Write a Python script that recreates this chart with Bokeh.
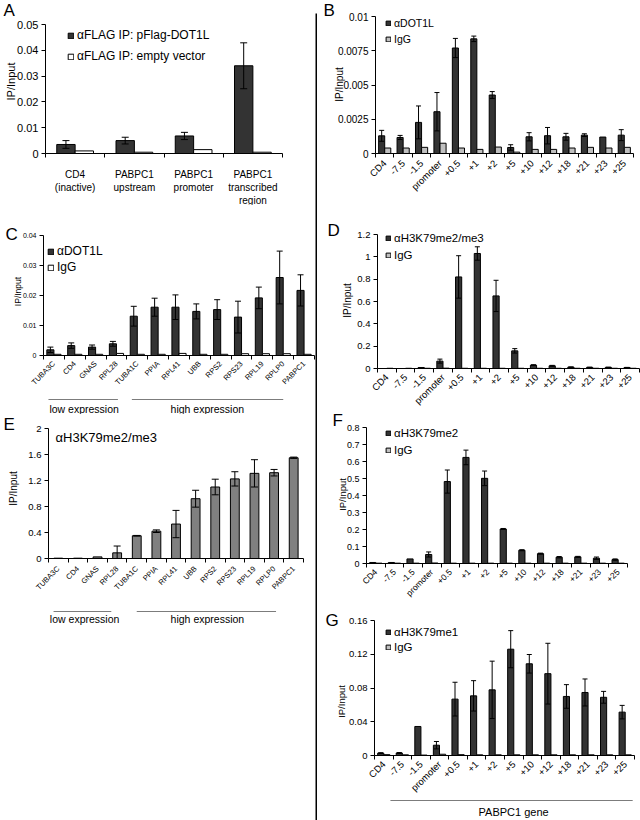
import math
from bokeh.plotting import figure
from bokeh.models import (ColumnDataSource, Whisker, TeeHead, FixedTicker, Range1d, Label,
                          Legend, LegendItem, PolyAnnotation, CustomJSTickFormatter)
from bokeh.core.properties import value
from bokeh.layouts import row, column
from bokeh.embed import file_html
from bokeh.resources import INLINE
from bokeh.transform import dodge

FONT = "Liberation Sans"
DARK = "#333333"
LIGHT = "#c0c0c0"
MID = "#808080"

# ---------------- data ----------------
# Panel A
a_cats = ["CD4\n(inactive)", "PABPC1\nupstream", "PABPC1\npromoter", "PABPC1\ntranscribed\nregion"]
a_flag = [0.0035, 0.0050, 0.0068, 0.0340]
a_flag_err = [0.0015, 0.0013, 0.0014, 0.0089]
a_empty = [0.0010, 0.0005, 0.0015, 0.0005]
a_yticks = [0, 0.01, 0.02, 0.03, 0.04, 0.05]

# PABPC1 gene positions (panels B, D, F, G)
gene_cats = ["CD4", "-7.5", "-1.5", "promoter", "+0.5", "+1", "+2", "+5",
             "+10", "+12", "+18", "+21", "+23", "+25"]

# Panel B
b_dot1l = [0.00129, 0.00117, 0.00227, 0.00305, 0.00770, 0.00837, 0.00427, 0.00044,
           0.00122, 0.00130, 0.00122, 0.00134, 0.00120, 0.00134]
b_dot1l_err = [0.0004, 0.00015, 0.0012, 0.0014, 0.0007, 0.0002, 0.00025, 0.0002,
               0.0003, 0.0006, 0.00025, 0.0001, 0.0, 0.0004]
b_igg = [0.0004, 0.0004, 0.00045, 0.00075, 0.0004, 0.0003, 0.00047, 0.0001,
         0.0003, 0.0003, 0.0004, 0.00045, 0.0004, 0.00045]
b_yticks = [0, 0.0025, 0.005, 0.0075, 0.01]

# Expression panels (C, E)
expr_cats = ["TUBA3C", "CD4", "GNAS", "RPL28", "TUBA1C", "PPIA", "RPL41", "UBB",
             "RPS2", "RPS23", "RPL19", "RPLP0", "PABPC1"]

# Panel C
c_dot1l = [0.0019, 0.0033, 0.0028, 0.0039, 0.0131, 0.0161, 0.0161, 0.0147,
           0.0153, 0.0128, 0.0192, 0.0260, 0.0217]
c_dot1l_err = [0.0009, 0.0009, 0.0007, 0.0008, 0.0033, 0.0030, 0.0041, 0.0025,
               0.0033, 0.0053, 0.0036, 0.0088, 0.0052]
c_igg = [0.0004, 0.0004, 0.0004, 0.0007, 0.0004, 0.0004, 0.0007, 0.0004,
         0.0004, 0.0006, 0.0006, 0.0006, 0.0004]
c_yticks = [0, 0.01, 0.02, 0.03, 0.04]

# Panel D
d_me23 = [0.0, 0.0, 0.009, 0.066, 0.82, 1.03, 0.65, 0.158, 0.030, 0.024, 0.012, 0.010, 0.010, 0.008]
d_me23_err = [0, 0, 0, 0.018, 0.19, 0.06, 0.14, 0.02, 0.004, 0.004, 0.002, 0.002, 0.002, 0.002]
d_igg = [0.002, 0.002, 0.002, 0.003, 0.002, 0.002, 0.002, 0.002, 0.002, 0.002, 0.002, 0.002, 0.002, 0.002]
d_yticks = [0, 0.2, 0.4, 0.6, 0.8, 1.0, 1.2]

# Panel E
e_me23 = [0.005, 0.005, 0.025, 0.087, 0.35, 0.42, 0.53, 0.92, 1.10, 1.225, 1.31, 1.32, 1.55]
e_me23_err = [0, 0, 0, 0.105, 0.005, 0.02, 0.21, 0.13, 0.12, 0.11, 0.21, 0.05, 0.01]
e_yticks = [0, 0.4, 0.8, 1.2, 1.6, 2.0]

# Panel F
f_me2 = [0.006, 0.006, 0.027, 0.053, 0.482, 0.624, 0.501, 0.203, 0.078, 0.058, 0.037, 0.039, 0.031, 0.023]
f_me2_err = [0, 0, 0, 0.015, 0.068, 0.043, 0.043, 0.003, 0.003, 0.003, 0.004, 0.003, 0.007, 0.004]
f_igg = [0.002, 0.002, 0.002, 0.003, 0.002, 0.002, 0.002, 0.002, 0.002, 0.002, 0.002, 0.002, 0.002, 0.002]
f_yticks = [0, 0.1, 0.2, 0.3, 0.4, 0.5, 0.6, 0.7, 0.8]

# Panel G
g_me1 = [0.0028, 0.0030, 0.0344, 0.0122, 0.0668, 0.0707, 0.0778, 0.1260,
         0.1087, 0.0970, 0.0700, 0.0747, 0.0690, 0.0514]
g_me1_err = [0.0005, 0.0005, 0, 0.0044, 0.020, 0.018, 0.034, 0.022,
             0.011, 0.036, 0.014, 0.016, 0.007, 0.008]
g_igg = [0.0010, 0.0008, 0.0005, 0.0015, 0.0010, 0.0008, 0.0008, 0.0008,
         0.0008, 0.0008, 0.0008, 0.0008, 0.0008, 0.0008]
g_yticks = [0, 0.04, 0.08, 0.12, 0.16]


# ---------------- helpers ----------------
def make_panel(W, H, rect, cats, ymax, yticks, xfs, yfs, rotate, xstandoff):
    """Canvas W x H; the data area [-0.5, n-0.5] x [0, ymax] sits at pixel rect (l, r, t, b)."""
    fl, fr, ft, fb = rect
    n = len(cats)
    ux = n / (fr - fl)
    uy = ymax / (fb - ft)
    xr = Range1d(-0.5 - fl * ux, n - 0.5 + (W - fr) * ux)
    yr = Range1d(-(H - fb) * uy, ymax + ft * uy)
    p = figure(width=W, height=H, x_range=xr, y_range=yr,
               min_border_left=0, min_border_right=0, min_border_top=0, min_border_bottom=0,
               output_backend="svg", toolbar_location=None, tools="")
    p.outline_line_color = None
    p.xgrid.visible = False
    p.ygrid.visible = False
    p.background_fill_color = "white"
    p.border_fill_color = "white"
    xa = p.xaxis[0]
    xa.fixed_location = 0
    xa.bounds = (-0.5, n - 0.5)
    xa.ticker = FixedTicker(ticks=list(range(n)), minor_ticks=[i - 0.5 for i in range(n + 1)])
    xa.major_label_overrides = {i: c for i, c in enumerate(cats)}
    xa.major_tick_in = 0
    xa.major_tick_out = 0
    xa.minor_tick_in = 0
    xa.minor_tick_out = 4
    xa.minor_tick_line_color = "black"
    xa.axis_line_color = "black"
    xa.major_label_text_font = FONT
    xa.major_label_text_font_size = xfs
    xa.major_label_text_color = "black"
    xa.major_label_standoff = xstandoff
    if rotate:
        xa.major_label_orientation = math.pi / 4
    ya = p.yaxis[0]
    ya.fixed_location = -0.5
    ya.bounds = (0, ymax)
    ya.ticker = FixedTicker(ticks=yticks, minor_ticks=[])
    ya.formatter = CustomJSTickFormatter(code="return String(Number(tick.toPrecision(6)));")
    ya.major_tick_in = 0
    ya.major_tick_out = 4
    ya.minor_tick_in = 0
    ya.minor_tick_out = 0
    ya.major_tick_line_color = "black"
    ya.axis_line_color = "black"
    ya.major_label_text_font = FONT
    ya.major_label_text_font_size = yfs
    ya.major_label_text_color = "black"
    ya.major_label_standoff = 3
    return p


def add_bars(p, values, offset, bw, color):
    src = ColumnDataSource(dict(x=list(range(len(values))), top=values))
    return p.vbar(x=dodge("x", offset), top="top", width=bw, source=src,
                  fill_color=color, line_color="black", line_width=1)


def add_err(p, values, errs, offset, head=6):
    idx = [i for i, e in enumerate(errs) if e > 0]
    src = ColumnDataSource(dict(x=idx,
                                upper=[values[i] + errs[i] for i in idx],
                                lower=[max(0.0, values[i] - errs[i]) for i in idx]))
    w = Whisker(source=src, base=dodge("x", offset), upper="upper", lower="lower",
                level="overlay", line_color="black", line_width=1,
                upper_head=TeeHead(size=head, line_color="black", line_width=1),
                lower_head=TeeHead(size=head, line_color="black", line_width=1))
    p.add_layout(w)


def add_legend(p, W, H, entries, x, center, pitch, fs, glyph):
    L = 15
    spacing = max(0, int(round(pitch - L)))
    n = len(entries)
    Hl = n * L + (n - 1) * spacing
    top = center - L / 2
    lg = Legend(items=[LegendItem(label=value(t), renderers=[r]) for t, r in entries],
                location=(x, H - top - Hl), orientation="vertical", padding=0, margin=0,
                spacing=spacing, glyph_width=glyph, glyph_height=glyph, label_height=L,
                label_standoff=3, label_text_font=FONT, label_text_font_size=fs,
                label_text_color="black", border_line_color=None,
                background_fill_alpha=0)
    p.add_layout(lg)


def add_text(p, H, lx, ly, text, fs, align="left", baseline="top", angle=0.0):
    p.add_layout(Label(x=lx, y=H - ly, x_units="screen", y_units="screen",
                       text=text, text_font=FONT, text_font_size=fs, text_color="black",
                       text_align=align, text_baseline=baseline, angle=angle))


def add_group(p, H, x0, x1, xc, yline, ytext, text, fs):
    p.add_layout(PolyAnnotation(xs=[x0, x1, x1, x0], ys=[H - yline] * 4,
                                xs_units="data", ys_units="screen",
                                line_color="black", line_width=1, fill_alpha=0))
    p.add_layout(Label(x=xc, y=H - ytext, x_units="data", y_units="screen", text=text,
                       text_font=FONT, text_font_size=fs, text_color="black",
                       text_align="center", text_baseline="middle"))


VERT = math.pi / 2

# ---------------- Panel A ----------------
WA, HA, rA = 315, 205, (45, 282, 24, 153)
pA = make_panel(WA, HA, rA, a_cats, 0.05, a_yticks, "10px", "11px", False, 11)
rA1 = add_bars(pA, a_flag, -0.155, 0.31, DARK)
rA2 = add_bars(pA, a_empty, 0.155, 0.31, "white")
add_err(pA, a_flag, a_flag_err, -0.155, 7)
add_legend(pA, WA, HA, [("\u03b1FLAG IP: pFlag-DOT1L", rA1), ("\u03b1FLAG IP: empty vector", rA2)],
           67, 35, 21, "12px", 7)
add_text(pA, HA, 3, 0, "A", "17px")
add_text(pA, HA, 10, 81, "IP/Input", "11px", "center", "middle", VERT)

# ---------------- Panel C ----------------
WC, HC, rC = 315, 209, (43, 314, 30, 150)
pC = make_panel(WC, HC, rC, expr_cats, 0.04, c_yticks, "7.5px", "7px", True, 3)
rC1 = add_bars(pC, c_dot1l, -0.17, 0.34, DARK)
rC2 = add_bars(pC, c_igg, 0.17, 0.34, "white")
add_err(pC, c_dot1l, c_dot1l_err, -0.17, 6)
add_legend(pC, WC, HC, [("\u03b1DOT1L", rC1), ("IgG", rC2)], 47, 46, 16, "12px", 7)
add_text(pC, HC, 5, 19, "C", "17px")
add_text(pC, HC, 17, 86, "IP/Input", "8.5px", "center", "middle", VERT)
add_group(pC, HC, -0.26, 3.07, 1.45, 194, 203, "low expression", "10.5px")
add_group(pC, HC, 3.74, 11.0, 7.36, 194, 203, "high expression", "10.5px")

# ---------------- Panel E ----------------
WE, HE, rE = 315, 406, (48, 303, 14, 144)
pE = make_panel(WE, HE, rE, expr_cats, 2.0, e_yticks, "7.5px", "9.5px", True, 5)
add_bars(pE, e_me23, 0.0, 0.45, MID)
add_err(pE, e_me23, e_me23_err, 0.0, 7)
add_text(pE, HE, 55, 23, "\u03b1H3K79me2/me3", "13px", "left", "middle")
add_text(pE, HE, 3, 0, "E", "17px")
add_text(pE, HE, 13, 74, "IP/Input", "10px", "center", "middle", VERT)
add_group(pE, HE, -0.24, 2.7, 1.34, 197, 204, "low expression", "10.5px")
add_group(pE, HE, 4.0, 11.1, 7.6, 197, 204, "high expression", "10.5px")

# ---------------- Panel B ----------------
WB, HB, rB = 323, 200, (58, 316, 16, 153)
pB = make_panel(WB, HB, rB, gene_cats, 0.01, b_yticks, "9.5px", "10px", True, 4)
rB1 = add_bars(pB, b_dot1l, -0.165, 0.33, DARK)
rB2 = add_bars(pB, b_igg, 0.165, 0.33, LIGHT)
add_err(pB, b_dot1l, b_dot1l_err, -0.165, 5)
add_legend(pB, WB, HB, [("\u03b1DOT1L", rB1), ("IgG", rB2)], 68, 23, 16, "10.5px", 6)
add_text(pB, HB, 6, 0, "B", "17px")
add_text(pB, HB, 22, 84, "IP/Input", "10px", "center", "middle", VERT)

# ---------------- Panel D ----------------
WD, HD, rD = 323, 210, (60, 322, 34, 168)
pD = make_panel(WD, HD, rD, gene_cats, 1.2, d_yticks, "9.5px", "9.5px", True, 3)
rD1 = add_bars(pD, d_me23, -0.165, 0.33, DARK)
rD2 = add_bars(pD, d_igg, 0.165, 0.33, LIGHT)
add_err(pD, d_me23, d_me23_err, -0.165, 5)
add_legend(pD, WD, HD, [("\u03b1H3K79me2/me3", rD1), ("IgG", rD2)], 68, 38, 17, "11.5px", 6)
add_text(pD, HD, 10, 20, "D", "17px")
add_text(pD, HD, 30, 100, "IP/Input", "10px", "center", "middle", VERT)

# ---------------- Panel F ----------------
WF, HF, rF = 323, 193, (49, 310, 17, 153)
pF = make_panel(WF, HF, rF, gene_cats, 0.8, f_yticks, "8.5px", "9px", True, 3)
rF1 = add_bars(pF, f_me2, -0.165, 0.33, DARK)
rF2 = add_bars(pF, f_igg, 0.165, 0.33, LIGHT)
add_err(pF, f_me2, f_me2_err, -0.165, 5)
add_legend(pF, WF, HF, [("\u03b1H3K79me2", rF1), ("IgG", rF2)], 68, 23, 17, "11.5px", 6)
add_text(pF, HF, 15, 0, "F", "17px")
add_text(pF, HF, 25, 84, "IP/Input", "9.5px", "center", "middle", VERT)

# ---------------- Panel G ----------------
WG, HG, rG = 323, 217, (57, 317, 17, 152)
pG = make_panel(WG, HG, rG, gene_cats, 0.16, g_yticks, "9.5px", "9.5px", True, 3)
rG1 = add_bars(pG, g_me1, -0.165, 0.33, DARK)
rG2 = add_bars(pG, g_igg, 0.165, 0.33, LIGHT)
add_err(pG, g_me1, g_me1_err, -0.165, 5)
add_legend(pG, WG, HG, [("\u03b1H3K79me1", rG1), ("IgG", rG2)], 68, 29, 15, "11.5px", 6)
add_text(pG, HG, 8, 7, "G", "17px")
add_text(pG, HG, 24, 98, "IP/Input", "9.5px", "center", "middle", VERT)
add_group(pG, HG, 0.36, 13.4, 6.99, 197, 208, "PABPC1 gene", "11px")

# ---------------- divider ----------------
divider = figure(width=2, height=820, x_range=Range1d(0, 1), y_range=Range1d(0, 1),
                 x_axis_type=None, y_axis_type=None,
                 min_border_left=0, min_border_right=0, min_border_top=13, min_border_bottom=0,
                 output_backend="svg", toolbar_location=None, tools="")
divider.grid.visible = False
divider.outline_line_color = None
divider.background_fill_color = "black"
divider.border_fill_color = "white"

layout = row(column(pA, pC, pE), divider, column(pB, pD, pF, pG))

open("out.html", "w").write(file_html(layout, INLINE, "ChIP figure"))
